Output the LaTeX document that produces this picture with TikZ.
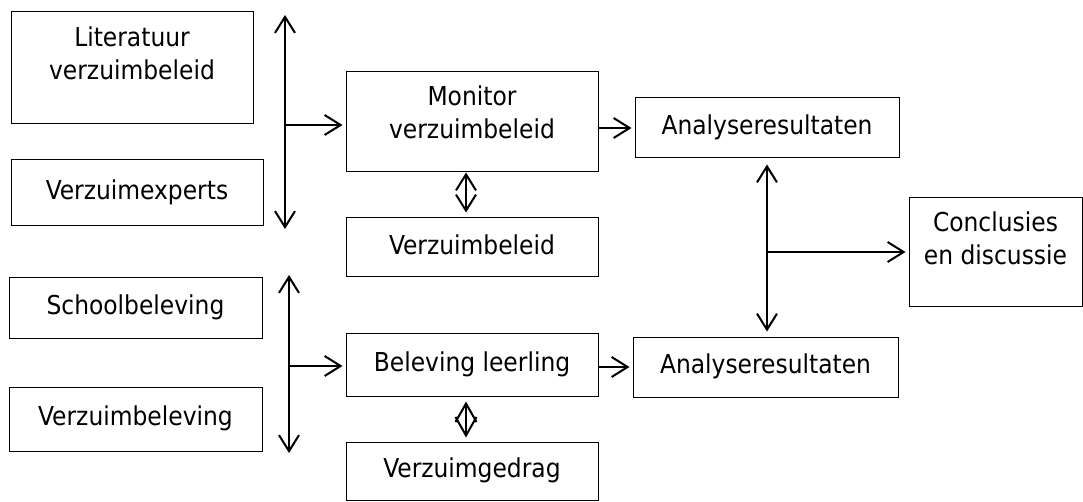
\documentclass[tikz,border=0pt]{standalone}
\usepackage{fontspec}
\setmainfont{DejaVu Sans Condensed}
\usetikzlibrary{arrows.meta}

\begin{document}
\begin{tikzpicture}[
                            x=1pt, y=-1pt,
                            ->,
                            >={Straight Barb[length=16pt,width=20pt]},
                            shorten >=3pt,
                            line width=2pt,
                            font=\fontsize{26}{33}\selectfont
                        ]
                        \tikzstyle{blok}=[draw=black,line width=1pt,align=center,inner sep=0pt]
                        \tikzstyle{regel}=[blok,text height=19pt,text depth=5.5pt]
                        \tikzstyle{ruit}=[{Straight Barb[length=18.5pt,width=21pt]}-{Straight Barb[length=18.5pt,width=21pt]}]

                        \useasboundingbox (0,0) rectangle (1083,502);

                        \node[blok]  (Lit)  at (132,68)    [minimum width=242pt,minimum height=112pt] {Literatuur\\verzuimbeleid\\[-4pt]~} ;
                        \node[regel] (Exp)  at (137,193)   [minimum width=252pt,minimum height=66pt]  {Verzuimexperts} ;
                        \node[blok]  (Mon)  at (472,122)   [minimum width=252pt,minimum height=100pt] {Monitor\\verzuimbeleid\\[-14pt]~} ;
                        \node[regel] (Vbl)  at (472,247.5) [minimum width=252pt,minimum height=59pt]  {Verzuimbeleid} ;
                        \node[regel] (Ana1) at (767,128)   [minimum width=264pt,minimum height=60pt]  {Analyseresultaten} ;
                        \node[blok]  (Con)  at (995.5,252) [minimum width=173pt,minimum height=108pt] {Conclusies\\en discussie\\[-6pt]~} ;
                        \node[regel] (Sch)  at (135.5,308) [minimum width=253pt,minimum height=60pt]  {Schoolbeleving} ;
                        \node[regel] (Vzb)  at (135.5,419) [minimum width=253pt,minimum height=64pt]  {Verzuimbeleving} ;
                        \node[regel] (Bel)  at (472,364.5) [minimum width=252pt,minimum height=63pt]  {Beleving leerling} ;
                        \node[regel] (Ana2) at (765.5,367) [minimum width=265pt,minimum height=60pt]  {Analyseresultaten} ;
                        \node[regel] (Ged)  at (472,471)   [minimum width=252pt,minimum height=58pt]  {Verzuimgedrag} ;

                        \coordinate (Lt) at (285,15) ;
                        \coordinate (Lb) at (285,229) ;
                        \coordinate (Lj) at (285,125) ;
                        \coordinate (Ot) at (289,275) ;
                        \coordinate (Ob) at (289,453) ;
                        \coordinate (Oj) at (289,366) ;

                        \path
                        (Lt) edge [<->,shorten >=0pt]              (Lb)
                        (Lj) edge                                  (Lj -| Mon.west)
                        (Mon.east |- Ana1) edge                    (Ana1.west)
                        ([xshift=-6pt]Mon.south) edge [<->,shorten >=5pt] ([xshift=-6pt]Vbl.north)
                        (Ana1.south) edge [<->,shorten <=6pt,shorten >=5pt] (Ana1.south |- Ana2.north)
                        (Ana1.south |- Con.west) edge              (Con.west)
                        (Ot) edge [<->,shorten >=0pt]              (Ob)
                        (Oj) edge                                  (Oj -| Bel.west)
                        (Bel.east |- Ana2) edge                    (Ana2.west)
                        ([xshift=-6pt]Bel.south) edge [ruit,shorten <=5pt,shorten >=4pt] ([xshift=-6pt]Ged.north)
                        ;
                    \end{tikzpicture}
\end{document}
